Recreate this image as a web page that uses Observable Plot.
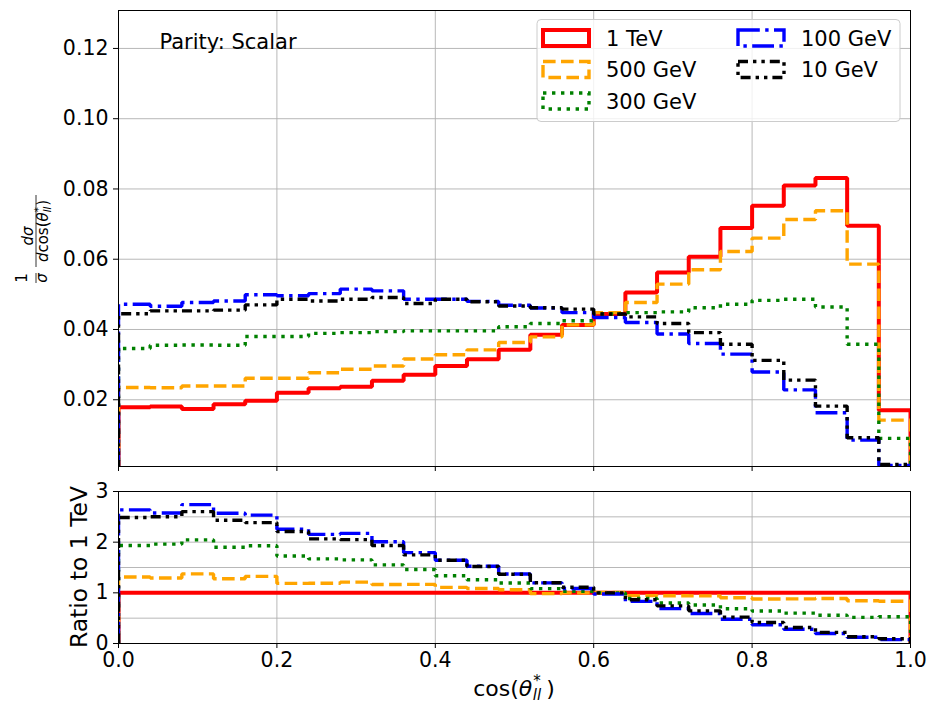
<!DOCTYPE html>
<html>
<head>
<meta charset="utf-8">
<script src="https://cdn.jsdelivr.net/npm/d3@7"></script>
<script src="https://cdn.jsdelivr.net/npm/@observablehq/plot@0.6"></script>
<style>
  body { margin: 0; background: #fff; }
  #chart { position: relative; width: 930px; height: 707px; font-family: "DejaVu Sans", sans-serif; }
  #chart svg { display: block; }
</style>
</head>
<body>
<div id="chart"></div>
<script>
// Bin edges of cos(theta*_ll), 25 bins of width 0.04
const binEdges = [0.00, 0.04, 0.08, 0.12, 0.16, 0.20, 0.24, 0.28, 0.32, 0.36, 0.40, 0.44, 0.48,
                  0.52, 0.56, 0.60, 0.64, 0.68, 0.72, 0.76, 0.80, 0.84, 0.88, 0.92, 0.96, 1.00];

// Normalised distributions (1/sigma dsigma/dcos) per mass point
const tev1   = [0.0179, 0.0181, 0.0174, 0.0187, 0.0197, 0.0220, 0.0233, 0.0237, 0.0254, 0.0271, 0.0296, 0.0315, 0.0342,
                0.0385, 0.0413, 0.0444, 0.0505, 0.0562, 0.0607, 0.0689, 0.0752, 0.0810, 0.0831, 0.0695, 0.0170];
const gev500 = [0.0235, 0.0234, 0.0239, 0.0239, 0.0261, 0.0261, 0.0277, 0.0287, 0.0296, 0.0316, 0.0328, 0.0342, 0.0363,
                0.0379, 0.0413, 0.0448, 0.0477, 0.0529, 0.0570, 0.0622, 0.0660, 0.0713, 0.0738, 0.0586, 0.0142];
const gev300 = [0.0346, 0.0355, 0.0356, 0.0355, 0.0380, 0.0380, 0.0389, 0.0391, 0.0394, 0.0396, 0.0396, 0.0396, 0.0408,
                0.0417, 0.0425, 0.0444, 0.0448, 0.0450, 0.0462, 0.0472, 0.0483, 0.0486, 0.0464, 0.0358, 0.0090];
const gev100 = [0.0472, 0.0466, 0.0477, 0.0481, 0.0499, 0.0496, 0.0502, 0.0515, 0.0510, 0.0486, 0.0486, 0.0480, 0.0469,
                0.0461, 0.0448, 0.0434, 0.0420, 0.0387, 0.0360, 0.0330, 0.0279, 0.0228, 0.0163, 0.0085, 0.0013];
const gev10  = [0.0445, 0.0453, 0.0453, 0.0455, 0.0470, 0.0486, 0.0481, 0.0486, 0.0491, 0.0474, 0.0486, 0.0479, 0.0467,
                0.0462, 0.0458, 0.0444, 0.0436, 0.0417, 0.0391, 0.0358, 0.0312, 0.0256, 0.0182, 0.0092, 0.0016];

const seriesNames  = ["1 TeV", "500 GeV", "300 GeV", "100 GeV", "10 GeV"];
const seriesValues = [tev1, gev500, gev300, gev100, gev10];

// Axis ticks
const xTicks        = [0, 0.2, 0.4, 0.6, 0.8, 1.0];
const yTicksTop     = [0.02, 0.04, 0.06, 0.08, 0.10, 0.12];
const yTicksRatio   = [0, 1, 2, 3];
const yGridRatio    = [0, 0.5, 1, 1.5, 2, 2.5, 3];

// Line styles (matplotlib-like colours and dash patterns)
const styles = [
  {stroke: "red",    width: 4.0, dash: null},
  {stroke: "orange", width: 3.4, dash: "12.6,5.4"},
  {stroke: "green",  width: 3.4, dash: "3.4,5.6"},
  {stroke: "blue",   width: 3.4, dash: "21.8,5.4,3.4,5.4"},
  {stroke: "black",  width: 3.4, dash: "10,5,3.4,5,3.4,5"}
];

// Histogram outline like histtype="step": starts and ends at zero
function stepRows(values) {
  const rows = [{x: binEdges[0], y: 0}];
  values.forEach((v, i) => rows.push({x: binEdges[i], y: v}));
  rows.push({x: binEdges[binEdges.length - 1], y: values[values.length - 1]});
  rows.push({x: binEdges[binEdges.length - 1], y: 0});
  return rows;
}

const ratioValues = seriesValues.map(vals => vals.map((v, i) => v / tev1[i]));

const gridStyle = {stroke: "#b0b0b0", strokeOpacity: 1, strokeWidth: 0.9};
const baseStyle = {fontFamily: "DejaVu Sans, sans-serif", fontSize: "20.5px", color: "black", background: "white", overflow: "visible"};

function lineMarks(allValues) {
  return allValues.map((vals, i) => Plot.line(stepRows(vals), {
    x: "x", y: "y", curve: "step-after", clip: true,
    stroke: styles[i].stroke, strokeWidth: styles[i].width,
    strokeDasharray: styles[i].dash || undefined,
    strokeLinejoin: "miter", strokeLinecap: "butt"
  }));
}

// Upper panel: distributions
const topPlot = Plot.plot({
  width: 930, height: 476,
  marginLeft: 118, marginRight: 20, marginTop: 10, marginBottom: 10,
  style: baseStyle,
  x: {domain: [0, 1], label: null},
  y: {domain: [0.001, 0.1308], label: null},
  marks: [
    Plot.gridX(xTicks.slice(1, -1), gridStyle),
    Plot.gridY(yTicksTop, gridStyle),
    ...lineMarks(seriesValues),
    Plot.text(["Parity: Scalar"], {frameAnchor: "top-left", dx: 41, dy: 38, fontSize: 21, textAnchor: "start", lineAnchor: "bottom"}),
    Plot.frame({stroke: "black", strokeWidth: 1}),
    Plot.axisY(yTicksTop, {tickSize: 5, tickPadding: 5, tickFormat: d3.format(".2f"), label: null}),
    Plot.axisX(xTicks, {tickSize: 5, tickFormat: () => "", label: null})
  ]
});

// Lower panel: ratio to the 1 TeV distribution
const bottomPlot = Plot.plot({
  width: 930, height: 231,
  marginLeft: 118, marginRight: 20, marginTop: 15, marginBottom: 64,
  style: baseStyle,
  x: {domain: [0, 1], label: null},
  y: {domain: [0, 3], label: null},
  marks: [
    Plot.gridX(xTicks.slice(1, -1), gridStyle),
    Plot.gridY(yGridRatio.slice(1, -1), gridStyle),
    ...lineMarks(ratioValues),
    Plot.frame({stroke: "black", strokeWidth: 1}),
    Plot.axisY(yTicksRatio, {tickSize: 5, tickPadding: 5, tickFormat: d3.format("d"), label: null}),
    Plot.axisX(xTicks, {tickSize: 5, tickPadding: 4, tickFormat: d3.format(".1f"), label: null})
  ]
});

const chart = document.getElementById("chart");
chart.append(topPlot, bottomPlot);

const svgTop = d3.select(topPlot.tagName === "svg" ? topPlot : topPlot.querySelector("svg"));
const svgBottom = d3.select(bottomPlot.tagName === "svg" ? bottomPlot : bottomPlot.querySelector("svg"));

// Legend (two columns, rectangular patch handles)
const legend = svgTop.append("g")
  .attr("font-family", "DejaVu Sans, sans-serif").attr("font-size", 21).attr("text-anchor", "start");
legend.append("rect")
  .attr("x", 537).attr("y", 19.5).attr("width", 363).attr("height", 102)
  .attr("rx", 4).attr("fill", "white").attr("fill-opacity", 0.8)
  .attr("stroke", "#cccccc").attr("stroke-width", 1);
const legendCols = [543, 738];
const legendRows = [38, 69.5, 101];
seriesNames.forEach((name, i) => {
  const col = i < 3 ? 0 : 1;
  const row = i < 3 ? i : i - 3;
  const cx = legendCols[col], cy = legendRows[row];
  const h = legend.append("rect")
    .attr("x", cx).attr("y", cy - 8).attr("width", 46).attr("height", 16)
    .attr("fill", "none").attr("stroke", styles[i].stroke).attr("stroke-width", styles[i].width)
    .attr("stroke-linejoin", "miter");
  if (styles[i].dash) h.attr("stroke-dasharray", styles[i].dash);
  legend.append("text").attr("x", cx + 63).attr("y", cy + 7.5)
    .attr("text-anchor", "start").attr("fill", "black").text(name);
});

// Y label of the upper panel: 1/sigma dsigma/dcos(theta*_ll)
const yl = svgTop.append("g")
  .attr("transform", "translate(36,238) rotate(-90)")
  .attr("font-family", "DejaVu Sans, sans-serif").attr("font-size", 15).attr("fill", "black");
yl.append("text").attr("x", -40).attr("y", -9).attr("text-anchor", "middle").text("1");
yl.append("line").attr("x1", -45).attr("x2", -35).attr("y1", 0).attr("y2", 0).attr("stroke", "black").attr("stroke-width", 0.8);
yl.append("text").attr("x", -40).attr("y", 11).attr("text-anchor", "middle").attr("font-style", "italic").text("σ");
const num = yl.append("text").attr("x", 2).attr("y", -3).attr("text-anchor", "middle");
num.append("tspan").attr("font-style", "italic").text("dσ");
yl.append("line").attr("x1", -29).attr("x2", 43).attr("y1", 0).attr("y2", 0).attr("stroke", "black").attr("stroke-width", 0.8);
const den = yl.append("text").attr("x", 7).attr("y", 12).attr("text-anchor", "middle");
den.append("tspan").attr("font-style", "italic").text("d");
den.append("tspan").text("cos(");
den.append("tspan").attr("font-style", "italic").text("θ");
den.append("tspan").attr("font-size", 10).attr("dy", -6).text("*");
den.append("tspan").attr("font-size", 10).attr("font-style", "italic").attr("dx", -5).attr("dy", 9).text("ll");
den.append("tspan").attr("dy", -3).attr("dx", 1).text(")");

// Y label of the ratio panel
svgBottom.append("text")
  .attr("transform", "translate(87,91) rotate(-90)")
  .attr("text-anchor", "middle").attr("font-size", 23.5).attr("fill", "black")
  .attr("font-family", "DejaVu Sans, sans-serif")
  .text("Ratio to 1 TeV");

// X label: cos(theta*_ll)
const xl = svgBottom.append("text")
  .attr("x", 514).attr("y", 220).attr("text-anchor", "middle")
  .attr("font-size", 22).attr("fill", "black").attr("font-family", "DejaVu Sans, sans-serif");
xl.append("tspan").text("cos(");
xl.append("tspan").attr("font-style", "italic").text("θ");
xl.append("tspan").attr("font-size", 15).attr("dy", -10).attr("dx", 1).text("*");
xl.append("tspan").attr("font-size", 15).attr("font-style", "italic").attr("dx", -8).attr("dy", 14).text("ll");
xl.append("tspan").attr("dy", -4).attr("dx", 5).text(")");
</script>
</body>
</html>
